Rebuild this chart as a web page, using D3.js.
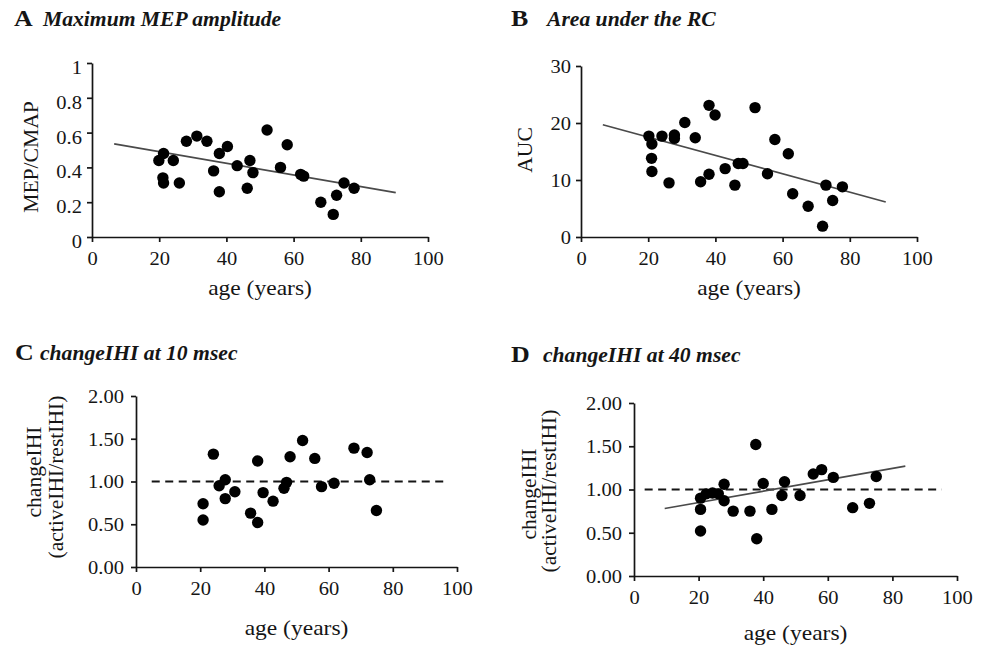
<!DOCTYPE html>
<html>
<head>
<meta charset="utf-8">
<script src="https://cdn.jsdelivr.net/npm/d3@7"></script>
<style>
  body { margin: 0; background: #fff; }
  text { font-family: "Liberation Serif", "DejaVu Serif", serif; fill: #151515; }
</style>
</head>
<body>
<script>
// ---- data ----
const ageA = [19.9, 21.3, 21.1, 21.3, 24.2, 26.0, 28.1, 31.2, 34.2, 36.2, 37.9, 37.9, 40.3, 43.2, 47.0, 46.2, 47.9, 52.1, 56.1, 58.1, 62.1, 63.0, 68.1, 72.8, 71.8, 75.0, 78.0];
const mepA = [0.44, 0.48, 0.34, 0.31, 0.44, 0.31, 0.55, 0.58, 0.55, 0.38, 0.48, 0.26, 0.52, 0.41, 0.44, 0.28, 0.37, 0.615, 0.40, 0.53, 0.36, 0.35, 0.20, 0.24, 0.13, 0.31, 0.28];

const ageB = [20.2, 21.1, 21.0, 21.1, 24.1, 26.2, 27.8, 27.8, 30.9, 34.0, 35.6, 38.1, 39.9, 38.1, 42.9, 45.8, 46.8, 48.2, 51.8, 55.5, 57.7, 61.7, 63.0, 67.6, 71.9, 72.9, 74.9, 77.8];
const aucB = [17.7, 16.3, 13.8, 11.5, 17.7, 9.5, 17.9, 17.3, 20.1, 17.4, 9.7, 23.1, 21.4, 11.0, 12.0, 9.1, 12.9, 12.9, 22.7, 11.1, 17.1, 14.6, 7.6, 5.4, 1.9, 9.1, 6.4, 8.8];

const ageC = [20.9, 20.9, 24.1, 25.9, 27.8, 27.8, 30.8, 35.7, 37.9, 37.9, 39.6, 42.7, 46.1, 46.9, 48.0, 51.9, 55.7, 57.8, 61.7, 67.9, 72.0, 72.8, 74.9];
const changeC = [0.74, 0.55, 1.32, 0.95, 1.02, 0.80, 0.88, 0.63, 1.24, 0.52, 0.87, 0.77, 0.92, 0.99, 1.29, 1.48, 1.27, 0.94, 0.98, 1.39, 1.34, 1.02, 0.66];

const ageD = [20.6, 20.6, 20.6, 22.4, 24.3, 26.1, 27.9, 27.9, 30.7, 35.9, 37.7, 38.0, 40.0, 42.7, 45.8, 46.6, 51.4, 55.5, 58.1, 61.7, 67.7, 72.9, 75.0];
const changeD = [0.90, 0.77, 0.52, 0.95, 0.96, 0.95, 1.06, 0.87, 0.75, 0.75, 1.52, 0.43, 1.07, 0.77, 0.93, 1.09, 0.93, 1.18, 1.23, 1.14, 0.79, 0.84, 1.15];

// regression lines (end points) and reference lines
const fitA = [[6.6, 0.535], [90.4, 0.255]];
const fitB = [[6.5, 19.7], [90.7, 6.15]];
const fitD = [[9.5, 0.78], [84.0, 1.27]];
const refC = [[4.9, 1.0], [97.2, 1.0]];
const refD = [[3.3, 1.0], [95.3, 1.0]];

const xTicks = [0, 20, 40, 60, 80, 100];
const yTicksA = [0, 0.2, 0.4, 0.6, 0.8, 1];
const yTicksB = [0, 10, 20, 30];
const yTicksCD = [0, 0.5, 1, 1.5, 2];

const W = 987, H = 648;
const SX = 1.08; // the figure's type is set slightly wide

const svg = d3.select('body').append('svg')
  .attr('width', W).attr('height', H);

function label(g, x, y, str, size, opts) {
  opts = opts || {};
  const sx = opts.sx || SX;
  return g.append('text')
    .attr('transform', 'translate(' + x + ',' + y + ') rotate(' + (opts.rotate || 0) + ') scale(' + sx + ',1)')
    .attr('text-anchor', opts.anchor || 'start')
    .style('font-size', size + 'px')
    .style('font-weight', opts.bold ? 'bold' : 'normal')
    .style('font-style', opts.italic ? 'italic' : 'normal')
    .text(str);
}

function panel(p) {
  const g = svg.append('g');
  const x = d3.scaleLinear().domain([0, 100]).range(p.xr);
  const y = d3.scaleLinear().domain(p.yd).range(p.yr);

  const xAxis = g.append('g')
    .attr('transform', 'translate(0,' + p.yr[0] + ')')
    .call(d3.axisBottom(x).tickValues(xTicks).tickSize(5).tickSizeOuter(0).tickPadding(9.5));
  const yAxis = g.append('g')
    .attr('transform', 'translate(' + p.xr[0] + ',0)')
    .call(d3.axisLeft(y).tickValues(p.yTicks).tickFormat(p.fmt).tickSize(5).tickSizeOuter(0));

  [xAxis, yAxis].forEach(a => {
    a.select('.domain').attr('stroke', '#151515').attr('stroke-width', 1.7);
    a.selectAll('.tick line').attr('stroke', '#151515').attr('stroke-width', 1.7);
    a.selectAll('text')
      .style('font-family', '"Liberation Serif", serif')
      .style('font-size', '19px')
      .attr('fill', '#151515')
      .attr('transform', 'scale(' + SX + ',1)');
  });
  yAxis.selectAll('text').attr('x', -p.yPad / SX).attr('dy', (0.34 * 19 + (p.yDy || 0)) + 'px');
  xAxis.selectAll('text').attr('x', 0);

  if (p.ref) {
    g.append('line')
      .attr('x1', x(p.ref[0][0])).attr('y1', y(p.ref[0][1]))
      .attr('x2', x(p.ref[1][0])).attr('y2', y(p.ref[1][1]))
      .attr('stroke', '#151515').attr('stroke-width', 2)
      .attr('stroke-dasharray', '8,5.5');
  }
  if (p.fit) {
    g.append('line')
      .attr('x1', x(p.fit[0][0])).attr('y1', y(p.fit[0][1]))
      .attr('x2', x(p.fit[1][0])).attr('y2', y(p.fit[1][1]))
      .attr('stroke', '#4a4a4a').attr('stroke-width', 1.7);
  }

  g.selectAll('circle')
    .data(p.ages.map((a, i) => [a, p.vals[i]]))
    .enter().append('circle')
    .attr('cx', d => x(d[0]))
    .attr('cy', d => y(d[1]))
    .attr('r', 5.7)
    .attr('fill', '#000');

  // panel letter and title
  label(g, p.title.lx, p.title.y, p.title.letter, 24, {bold: true, sx: 1.08});
  label(g, p.title.tx, p.title.y, p.title.text, 21, {bold: true, italic: true, sx: 1.03});

  // axis titles
  label(g, (p.xr[0] + p.xr[1]) / 2, p.xLabelY, 'age (years)', 21, {anchor: 'middle', sx: 1.12});
  p.yLabel.forEach(l => label(g, l.x, l.y, l.text, 20, {anchor: 'middle', rotate: -90}));
}

panel({
  xr: [92, 428], yd: [0, 1], yr: [237, 63], yTicks: yTicksA, fmt: d3.format(''), yPad: 10, yDy: 4,
  ages: ageA, vals: mepA, fit: fitA,
  title: {letter: 'A', text: 'Maximum MEP amplitude', lx: 14, tx: 43, y: 26},
  xLabelY: 295,
  yLabel: [{x: 38, y: 157, text: 'MEP/CMAP'}]
});

panel({
  xr: [581, 917], yd: [0, 30], yr: [237, 66], yTicks: yTicksB, fmt: d3.format(''), yPad: 10,
  ages: ageB, vals: aucB, fit: fitB,
  title: {letter: 'B', text: 'Area under the RC', lx: 511, tx: 547, y: 26},
  xLabelY: 295,
  yLabel: [{x: 532, y: 150, text: 'AUC'}]
});

panel({
  xr: [136, 457], yd: [0, 2], yr: [567, 396], yTicks: yTicksCD, fmt: d3.format('.2f'), yPad: 12,
  ages: ageC, vals: changeC, ref: refC,
  title: {letter: 'C', text: 'changeIHI at 10 msec', lx: 15, tx: 40, y: 360},
  xLabelY: 635,
  yLabel: [{x: 41, y: 472, text: 'changeIHI'}, {x: 63, y: 477, text: '(activeIHI/restIHI)'}]
});

panel({
  xr: [634, 957], yd: [0, 2], yr: [576, 403], yTicks: yTicksCD, fmt: d3.format('.2f'), yPad: 12,
  ages: ageD, vals: changeD, ref: refD, fit: fitD,
  title: {letter: 'D', text: 'changeIHI at 40 msec', lx: 511, tx: 543, y: 362},
  xLabelY: 640,
  yLabel: [{x: 536, y: 494, text: 'changeIHI'}, {x: 556, y: 491, text: '(activeIHI/restIHI)'}]
});
</script>
</body>
</html>
